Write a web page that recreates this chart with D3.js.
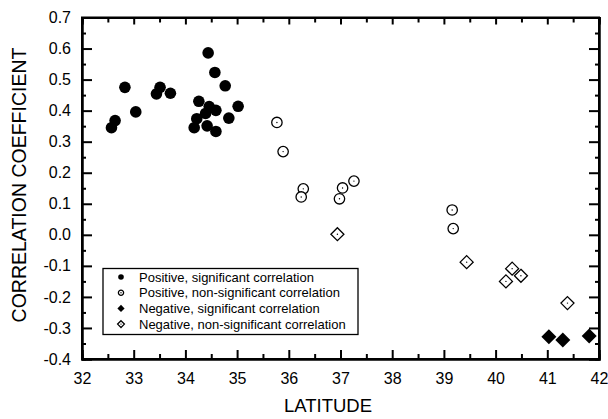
<html>
<head>
<meta charset="utf-8">
<title>correlation vs latitude</title>
<script src="https://d3js.org/d3.v7.min.js"></script>
<style>
  body { margin: 0; background: #fff; }
  svg text { font-family: "Liberation Sans", Arial, sans-serif; fill: #000; }
</style>
</head>
<body>
<div id="chart"></div>
<script>
// data: latitude / correlation coefficient
const posSigLat = [32.57, 32.64, 32.83, 33.04, 33.44, 33.51, 33.71, 34.44, 34.57, 34.77,
                   34.26, 34.46, 34.59, 34.39, 35.02, 34.22, 34.84, 34.17, 34.42, 34.59];
const posSigR   = [0.345, 0.368, 0.475, 0.396, 0.454, 0.475, 0.456, 0.586, 0.523, 0.480,
                   0.430, 0.413, 0.401, 0.391, 0.414, 0.374, 0.376, 0.345, 0.351, 0.333];
const posNsLat = [35.77, 35.89, 36.28, 36.24, 37.04, 36.98, 37.26, 39.16, 39.18];
const posNsR   = [0.362, 0.268, 0.148, 0.122, 0.151, 0.116, 0.173, 0.080, 0.020];
const negSigLat = [41.03, 41.30, 41.81];
const negSigR   = [-0.328, -0.339, -0.326];
const negNsLat = [36.94, 39.44, 40.32, 40.20, 40.49, 41.39];
const negNsR   = [0.002, -0.088, -0.109, -0.150, -0.132, -0.220];

const xTicks = [32, 33, 34, 35, 36, 37, 38, 39, 40, 41, 42];
const yTicks = [-0.4, -0.3, -0.2, -0.1, 0.0, 0.1, 0.2, 0.3, 0.4, 0.5, 0.6, 0.7];
const legendLabels = ["Positive, significant correlation",
                      "Positive, non-significant correlation",
                      "Negative, significant correlation",
                      "Negative, non-significant correlation"];

const width = 608, height = 419;
const svg = d3.select("#chart").append("svg")
    .attr("width", width)
    .attr("height", height);

const x = d3.scaleLinear().domain([32, 42]).range([82, 599]);
const y = d3.scaleLinear().domain([-0.4, 0.7]).range([359, 17.5]);

const xMinor = d3.range(32.5, 42, 1);
const yMinor = d3.range(-0.35, 0.7, 0.1);

// axes, ticks pointing inward
svg.append("g").attr("transform", `translate(0,${y(-0.4)})`)
    .call(d3.axisBottom(x).tickValues(xTicks).tickSize(-9).tickPadding(14).tickFormat(d3.format("d")));
svg.append("g").attr("transform", `translate(0,${y(-0.4)})`)
    .call(d3.axisBottom(x).tickValues(xMinor).tickSize(-5).tickFormat(""));
svg.append("g").attr("transform", `translate(0,${y(0.7)})`)
    .call(d3.axisTop(x).tickValues(xTicks).tickSize(-7).tickFormat(""));
svg.append("g").attr("transform", `translate(0,${y(0.7)})`)
    .call(d3.axisTop(x).tickValues(xMinor).tickSize(-5).tickFormat(""));

svg.append("g").attr("transform", `translate(${x(32)},0)`)
    .call(d3.axisLeft(y).tickValues(yTicks).tickSize(-10).tickPadding(11).tickFormat(d => d.toFixed(1)));
svg.append("g").attr("transform", `translate(${x(32)},0)`)
    .call(d3.axisLeft(y).tickValues(yMinor).tickSize(-4).tickFormat(""));
svg.append("g").attr("transform", `translate(${x(42)},0)`)
    .call(d3.axisRight(y).tickValues(yTicks).tickSize(-10).tickFormat(""));
svg.append("g").attr("transform", `translate(${x(42)},0)`)
    .call(d3.axisRight(y).tickValues(yMinor).tickSize(-4).tickFormat(""));

svg.selectAll(".domain").attr("stroke", "#000").attr("stroke-width", 2);
svg.selectAll(".tick line").attr("stroke", "#000").attr("stroke-width", 2);
svg.selectAll(".tick text").style("font-size", "16px");

// frame
svg.append("rect")
    .attr("x", x(32)).attr("y", y(0.7))
    .attr("width", x(42) - x(32)).attr("height", y(-0.4) - y(0.7))
    .attr("fill", "none").attr("stroke", "#000").attr("stroke-width", 2);

// axis titles
svg.append("text")
    .attr("x", 328).attr("y", 412)
    .attr("text-anchor", "middle")
    .style("font-size", "18.5px")
    .text("LATITUDE");
svg.append("text")
    .attr("transform", `translate(26,185) rotate(-90)`)
    .attr("text-anchor", "middle")
    .style("font-size", "19.5px")
    .text("CORRELATION COEFFICIENT");

const diamond = s => `M0,${-s}L${s},0L0,${s}L${-s},0Z`;

function solidCircle(g, s) {
    g.append("circle").attr("r", s).attr("fill", "#000");
}
function openCircle(g, s) {
    g.append("circle").attr("r", s).attr("fill", "#fff").attr("stroke", "#000").attr("stroke-width", 1.3);
    g.append("circle").attr("r", 0.7).attr("fill", "#000");
}
function solidDiamond(g, s) {
    g.append("path").attr("d", diamond(s)).attr("fill", "#000");
}
function openDiamond(g, s) {
    g.append("path").attr("d", diamond(s)).attr("fill", "#fff").attr("stroke", "#000").attr("stroke-width", 1.3);
    g.append("circle").attr("r", 0.7).attr("fill", "#000");
}

function plot(lats, rs, draw, s) {
    lats.forEach((lat, i) => {
        const g = svg.append("g").attr("transform", `translate(${x(lat)},${y(rs[i])})`);
        draw(g, s);
    });
}
plot(posNsLat, posNsR, openCircle, 5.2);
plot(negNsLat, negNsR, openDiamond, 6.5);
plot(posSigLat, posSigR, solidCircle, 5.8);
plot(negSigLat, negSigR, solidDiamond, 7.5);

// legend
const legend = svg.append("g");
legend.append("rect")
    .attr("x", 103).attr("y", 268.5)
    .attr("width", 255).attr("height", 66)
    .attr("fill", "#fff").attr("stroke", "#000").attr("stroke-width", 1.3);
const legendDraw = [solidCircle, openCircle, solidDiamond, openDiamond];
const legendSize = [2.8, 2.6, 3.6, 3.4];
legendLabels.forEach((lab, i) => {
    const cy = 277 + i * 15.7;
    const g = legend.append("g").attr("transform", `translate(121,${cy})`);
    legendDraw[i](g, legendSize[i]);
    legend.append("text")
        .attr("x", 139).attr("y", cy + 4.5)
        .style("font-size", "13px")
        .text(lab);
});
</script>
</body>
</html>
